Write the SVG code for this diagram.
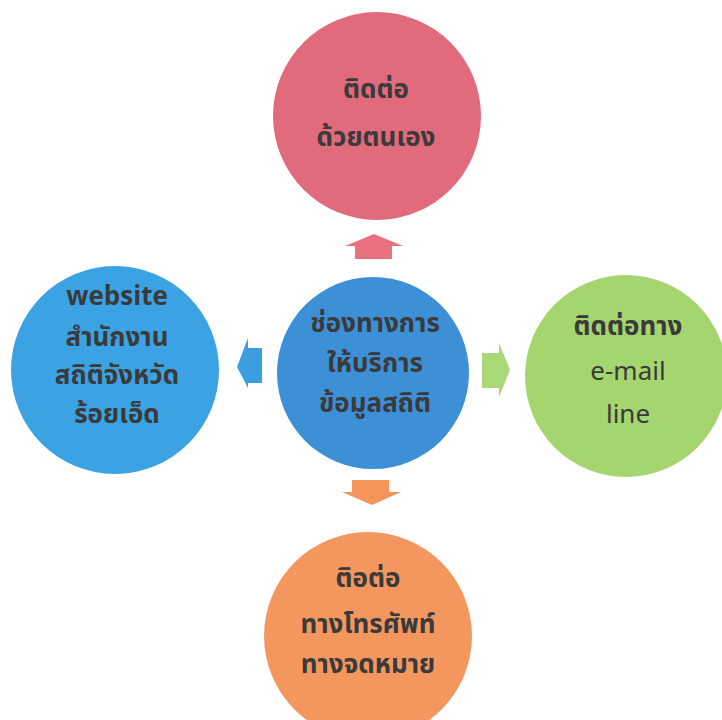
<svg xmlns="http://www.w3.org/2000/svg" width="722" height="720" viewBox="0 0 722 720">
<style>
.t{font-family:"Noto Sans Thai","Noto Sans","DejaVu Sans",sans-serif;font-size:26px;font-weight:bold;fill:#3a3a3a;text-anchor:middle}
.e{font-weight:normal}
</style>
<rect width="722" height="720" fill="#ffffff"/>
<g id="connectors">
<polygon id="arrow-up" points="374,234 403,246 392,246 392,259 355,259 355,246 345,246" fill="#E8707F"/>
<polygon id="arrow-left" points="237,367 248,338 248,348 262,348 262,383 248,383 248,388" fill="#3B9EE0"/>
<polygon id="arrow-right" points="510,370 499,343 499,353 482,353 482,388 499,388 499,397" fill="#A8D878"/>
<polygon id="arrow-down" points="372,505 401,492 389,492 389,480 352,480 352,492 342,492" fill="#F5955A"/>
</g>
<g id="node-top">
<circle cx="377" cy="116" r="104" fill="#E26A7D"/>
<text class="t" x="376" y="98">ติดต่อ</text>
<text class="t" x="376" y="146">ด้วยตนเอง</text>
</g>
<g id="node-left">
<circle cx="115" cy="370" r="104" fill="#3BA3E3"/>
<text class="t" x="117" y="305">website</text>
<text class="t" x="117" y="346">สำนักงาน</text>
<text class="t" x="117" y="384">สถิติจังหวัด</text>
<text class="t" x="117" y="423">ร้อยเอ็ด</text>
</g>
<g id="node-center">
<circle cx="373" cy="373" r="96" fill="#3D8FD6"/>
<text class="t" x="375" y="332">ช่องทางการ</text>
<text class="t" x="375" y="372">ให้บริการ</text>
<text class="t" x="375" y="412">ข้อมูลสถิติ</text>
</g>
<g id="node-right">
<circle cx="626" cy="376" r="101" fill="#A5D56E"/>
<text class="t" x="628" y="335">ติดต่อทาง</text>
<text class="t e" x="628" y="380">e-mail</text>
<text class="t e" x="628" y="423">line</text>
</g>
<g id="node-bottom">
<circle cx="368" cy="636" r="104" fill="#F4975F"/>
<text class="t" x="368" y="587">ติอต่อ</text>
<text class="t" x="368" y="633">ทางโทรศัพท์</text>
<text class="t" x="368" y="673">ทางจดหมาย</text>
</g>
</svg>
